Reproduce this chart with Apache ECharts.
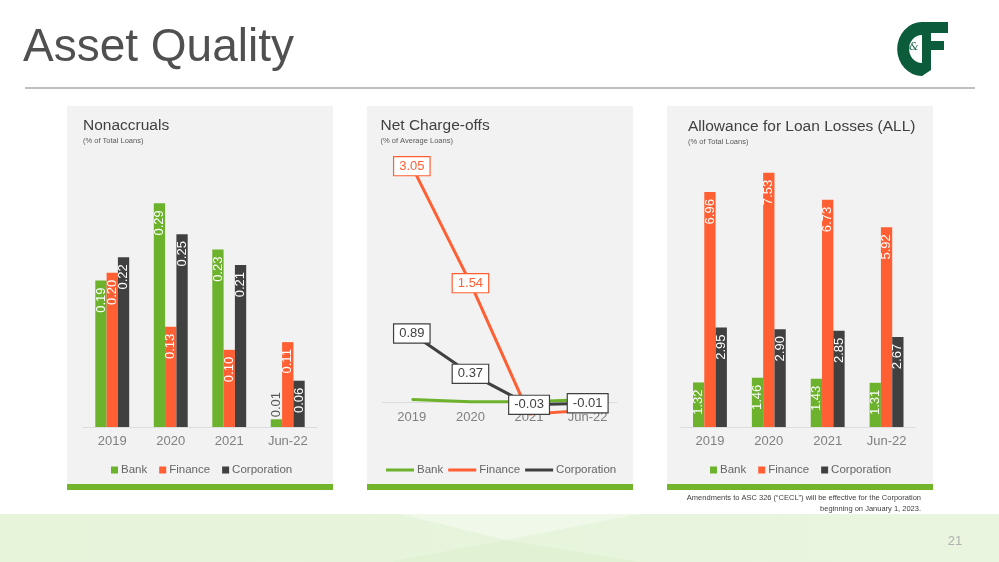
<!DOCTYPE html>
<html>
<head>
<meta charset="utf-8">
<script src="https://cdn.jsdelivr.net/npm/echarts@6/dist/echarts.min.js"></script>
<style>
html,body{margin:0;padding:0;background:#fff;}
#c{width:999px;height:562px;}
</style>
</head>
<body>
<div id="c"></div>
<script>
// ---- data ----
const categories = ['2019', '2020', '2021', 'Jun-22'];
const seriesNames = ['Bank', 'Finance', 'Corporation'];

const nonaccBank = [0.19, 0.29, 0.23, 0.01];
const nonaccFinance = [0.20, 0.13, 0.10, 0.11];
const nonaccCorp = [0.22, 0.25, 0.21, 0.06];

const ncoBank = [0.04, 0.01, 0.01, 0.04];
const ncoFinance = [3.05, 1.54, -0.15, -0.10];
const ncoCorp = [0.89, 0.37, -0.03, -0.01];

const allBank = [1.32, 1.46, 1.43, 1.31];
const allFinance = [6.96, 7.53, 6.73, 5.92];
const allCorp = [2.95, 2.90, 2.85, 2.67];

// ---- styles ----
const GREEN = '#6cb22c';
const ORANGE = '#ff5f33';
const DARK = '#404040';
const FONT = '"Liberation Sans", Arial, sans-serif';

const chart = echarts.init(document.getElementById('c'), null, {renderer: 'canvas'});

function barSeries(name, values, color, idx) {
  return {
    type: 'bar', name: name, xAxisIndex: idx, yAxisIndex: idx,
    barWidth: 11.3, barGap: '0%',
    itemStyle: {color: color},
    data: values.map(v => {
      const item = {value: v};
      if (v < 0.03) {
        item.label = {position: 'top', align: 'left', distance: 2, color: '#595959'};
      }
      return item;
    }),
    label: {
      show: true, position: 'insideTop', rotate: 90, align: 'right', verticalAlign: 'middle',
      distance: 7, color: '#ffffff', fontSize: 13, fontFamily: FONT,
      formatter: p => p.value.toFixed(2)
    }
  };
}

function lineSeries(name, values, color, labelIdx, labelColor) {
  return {
    type: 'line', name: name, xAxisIndex: 1, yAxisIndex: 1,
    symbol: 'circle', symbolSize: 1, showSymbol: true, clip: false,
    lineStyle: {color: color, width: 3},
    itemStyle: {color: color},
    emphasis: {disabled: true},
    data: values.map((v, i) => ({
      value: v,
      label: {show: labelIdx.indexOf(i) >= 0}
    })),
    label: {
      position: 'inside', fontSize: 13, fontFamily: FONT, color: labelColor,
      backgroundColor: '#ffffff', borderColor: color, borderWidth: 1.2,
      padding: [3, 5, 2, 5],
      formatter: p => p.value.toFixed(2)
    }
  };
}

function xAxis(idx) {
  return {
    type: 'category', gridIndex: idx, data: categories,
    axisTick: {show: false},
    axisLine: {onZero: false, lineStyle: {color: '#dcdcdc', width: 1}},
    axisLabel: {color: '#808080', fontSize: 13, fontFamily: FONT, margin: 8}
  };
}

const panelGraphics = [];
[67, 367, 667].forEach(x => {
  panelGraphics.push({type: 'rect', shape: {x: x, y: 106, width: 266, height: 378}, style: {fill: '#f2f2f2'}, z: -10});
  panelGraphics.push({type: 'rect', shape: {x: x, y: 484, width: 266, height: 6}, style: {fill: '#72b52a'}, z: -10});
});

function txt(text, x, y, size, color, align, extra) {
  return Object.assign({
    type: 'text', x: x, y: y, z: 50,
    style: {text: text, fill: color, fontSize: size, fontFamily: FONT, align: align || 'left', verticalAlign: 'middle'}
  }, extra || {});
}

function legend(left, w, h, gap) {
  return {
    data: seriesNames.map(n => ({name: n, icon: 'rect'})), left: left, top: 464, padding: 0,
    itemWidth: w, itemHeight: h, itemGap: gap, selectedMode: false,
    textStyle: {color: '#666666', fontSize: 11.5, fontFamily: FONT, padding: [0, 0, 0, -2]}
  };
}

const option = {
  animation: false,
  backgroundColor: '#ffffff',
  grid: [
    {left: 83, top: 157, width: 234, height: 270},
    {left: 382.5, top: 131.25, width: 234.5, height: 271.25},
    {left: 680.5, top: 157, width: 235.5, height: 270}
  ],
  xAxis: [xAxis(0), xAxis(1), xAxis(2)],
  yAxis: [
    {type: 'value', gridIndex: 0, min: 0, max: 0.35, show: false, splitLine: {show: false}},
    {type: 'value', gridIndex: 1, min: 0, max: 3.5, show: false, splitLine: {show: false}},
    {type: 'value', gridIndex: 2, min: 0, max: 8, show: false, splitLine: {show: false}}
  ],
  legend: [legend(111, 7, 7, 12), legend(386, 28, 3, 5), legend(710, 7, 7, 12)],
  series: [
    barSeries('Bank', nonaccBank, GREEN, 0),
    barSeries('Finance', nonaccFinance, ORANGE, 0),
    barSeries('Corporation', nonaccCorp, DARK, 0),
    lineSeries('Bank', ncoBank, GREEN, [], GREEN),
    lineSeries('Finance', ncoFinance, ORANGE, [0, 1], ORANGE),
    lineSeries('Corporation', ncoCorp, DARK, [0, 1, 2, 3], DARK),
    barSeries('Bank', allBank, GREEN, 2),
    barSeries('Finance', allFinance, ORANGE, 2),
    barSeries('Corporation', allCorp, DARK, 2)
  ],
  graphic: [].concat(panelGraphics, [
    // bottom band
    {type: 'rect', shape: {x: 0, y: 514, width: 999, height: 48}, z: -20,
     style: {fill: new echarts.graphic.LinearGradient(0, 0, 1, 0, [{offset: 0, color: '#e6f4da'}, {offset: 1, color: '#e9f5df'}])}},
    {type: 'polygon', shape: {points: [[400, 514], [640, 514], [505, 540]]}, style: {fill: '#f0f8e9'}, z: -19},
    {type: 'polygon', shape: {points: [[390, 562], [505, 540], [640, 562]]}, style: {fill: '#e1f1d3'}, z: -19},
    // header
    txt('Asset Quality', 23, 48, 46, '#505050'),
    {type: 'rect', shape: {x: 25, y: 87, width: 950, height: 2}, style: {fill: '#bfbfbf'}, z: 10},
    // logo
    {type: 'sector', x: 922, y: 49, scaleX: 0.92, scaleY: 1, shape: {cx: 0, cy: 0, r: 27, r0: 14, startAngle: Math.PI / 2, endAngle: Math.PI * 1.5}, style: {fill: '#0c5b3a'}, z: 20},
    {type: 'polygon', shape: {points: [[922, 22], [948, 22], [948, 33], [931, 33], [931, 41], [944, 41], [944, 50], [931, 50], [931, 70], [922, 76]]}, style: {fill: '#0c5b3a'}, z: 20},
    {type: 'text', x: 914, y: 47, z: 21, style: {text: '&', fill: '#0c5b3a', fontSize: 11, fontFamily: '"DejaVu Serif", serif', fontStyle: 'italic', align: 'center', verticalAlign: 'middle'}},
    // panel titles
    txt('Nonaccruals', 83, 126, 15.5, DARK),
    txt('(% of Total Loans)', 83, 140.5, 7.5, '#595959'),
    txt('Net Charge-offs', 380.5, 126, 15.5, DARK),
    txt('(% of Average Loans)', 380.5, 140.5, 7.5, '#595959'),
    txt('Allowance for Loan Losses (ALL)', 688, 127, 15.5, DARK),
    txt('(% of Total Loans)', 688, 141.5, 7.5, '#595959'),
    // footnote
    txt('Amendments to ASC 326 (\u201CCECL\u201D) will be effective for the Corporation', 921, 498, 7.5, '#404040', 'right'),
    txt('beginning on January 1, 2023.', 921, 509, 7.5, '#404040', 'right'),
    txt('21', 955, 541, 13, '#b0b0b0', 'center')
  ])
};

chart.setOption(option);
</script>
</body>
</html>
